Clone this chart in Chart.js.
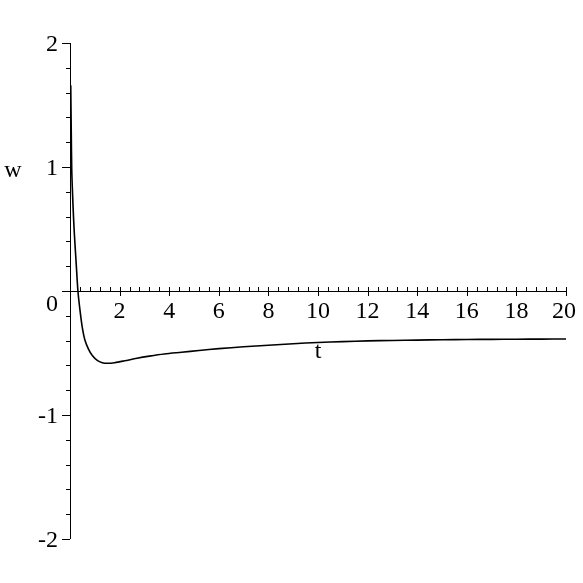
<!DOCTYPE html>
<html>
<head>
<meta charset="utf-8">
<script src="https://cdn.jsdelivr.net/npm/chart.js@4"></script>
<style>
  html, body { margin: 0; padding: 0; background: #fff; }
  #wrap { width: 583px; height: 583px; position: relative; }
</style>
</head>
<body>
<div id="wrap"><canvas id="myChart"></canvas></div>
<script>
// values
const tValues = [0.03, 0.05, 0.07, 0.1, 0.13, 0.16, 0.2, 0.25, 0.32, 0.4, 0.5, 0.6, 0.75, 0.9, 1.1, 1.3, 1.5, 1.8, 2.2, 2.7, 3.2, 3.8, 4.5, 5.2, 6, 7, 8, 9, 10, 11, 12, 13, 14, 15, 16, 17, 18, 19, 20];
const wValues = [1.66, 1.3, 0.98, 0.8, 0.65, 0.52, 0.38, 0.22, 0.0, -0.15, -0.3, -0.395, -0.47, -0.52, -0.56, -0.578, -0.583, -0.578, -0.563, -0.542, -0.525, -0.508, -0.494, -0.48, -0.465, -0.45, -0.438, -0.425, -0.415, -0.408, -0.402, -0.399, -0.396, -0.393, -0.391, -0.39, -0.389, -0.388, -0.387];
const xTickLabels = [2, 4, 6, 8, 10, 12, 14, 16, 18, 20];
const yTickLabels = [2, 1, 0, -1, -2];

const FONT_SIZE = 24;
const FONT_FAMILY = "Liberation Serif";

const mapleAxes = {
  id: "mapleAxes",
  afterDraw(chart) {
    const ctx = chart.ctx;
    const xs = chart.scales.x;
    const ys = chart.scales.y;
    const x0 = xs.getPixelForValue(0);
    const y0 = ys.getPixelForValue(0);
    ctx.save();
    ctx.strokeStyle = "#000";
    ctx.fillStyle = "#000";
    ctx.lineWidth = 1;

    // axis lines
    ctx.beginPath();
    ctx.moveTo(x0 + 0.5, ys.getPixelForValue(2));
    ctx.lineTo(x0 + 0.5, ys.getPixelForValue(-2));
    ctx.moveTo(x0 - 8, y0 + 0.5);
    ctx.lineTo(xs.getPixelForValue(20), y0 + 0.5);
    ctx.stroke();

    // x ticks: minor every 0.4 upward, major every 2 crossing the axis
    ctx.beginPath();
    for (let i = 1; i <= 50; i++) {
      const px = Math.round(xs.getPixelForValue(i * 0.4)) + 0.5;
      ctx.moveTo(px, y0 - 4);
      ctx.lineTo(px, i % 5 === 0 ? y0 + 5 : y0);
    }
    // y ticks: minor every 0.2, major every 1, to the left
    for (let i = -10; i <= 10; i++) {
      const py = Math.round(ys.getPixelForValue(i * 0.2)) + 0.5;
      const len = i % 5 === 0 ? 8 : 4;
      ctx.moveTo(x0 - len, py);
      ctx.lineTo(x0, py);
    }
    ctx.stroke();

    ctx.font = Chart.helpers.toFontString({ size: FONT_SIZE, family: FONT_FAMILY, style: "normal", weight: "normal" });
    // x tick labels (last one pulled in to stay on the canvas)
    ctx.textAlign = "center";
    ctx.textBaseline = "alphabetic";
    xTickLabels.forEach(function (v) {
      const px = xs.getPixelForValue(v) - (v === 20 ? 2 : 0);
      ctx.fillText(String(v), px, y0 + 27);
    });
    // y tick labels
    ctx.textAlign = "right";
    ctx.textBaseline = "middle";
    yTickLabels.forEach(function (v) {
      if (v === 0) return;
      ctx.fillText(String(v), x0 - 12, ys.getPixelForValue(v) + 2);
    });
    ctx.textAlign = "center";
    ctx.fillText("0", x0 - 18, y0 + 14);

    // axis titles
    ctx.fillText("w", 13, ys.getPixelForValue(0.97));
    ctx.fillText("t", xs.getPixelForValue(10), ys.getPixelForValue(-0.49));
    ctx.restore();
  },
};

const ctx = document.getElementById("myChart").getContext("2d");
new Chart(ctx, {
  type: "scatter",
  data: {
    datasets: [
      {
        label: "w",
        data: tValues.map((t, i) => ({ x: t, y: wValues[i] })),
        showLine: true,
        borderColor: "#000",
        borderWidth: 1.6,
        pointRadius: 0,
        tension: 0.3,
        fill: false,
      },
    ],
  },
  options: {
    responsive: true,
    maintainAspectRatio: false,
    animation: false,
    layout: { padding: { left: 70, right: 17, top: 43, bottom: 44 } },
    scales: {
      x: { type: "linear", min: 0, max: 20, display: false },
      y: { type: "linear", min: -2, max: 2, display: false },
    },
    plugins: {
      legend: { display: false },
      tooltip: { enabled: false },
    },
  },
  plugins: [mapleAxes],
});
</script>
</body>
</html>
